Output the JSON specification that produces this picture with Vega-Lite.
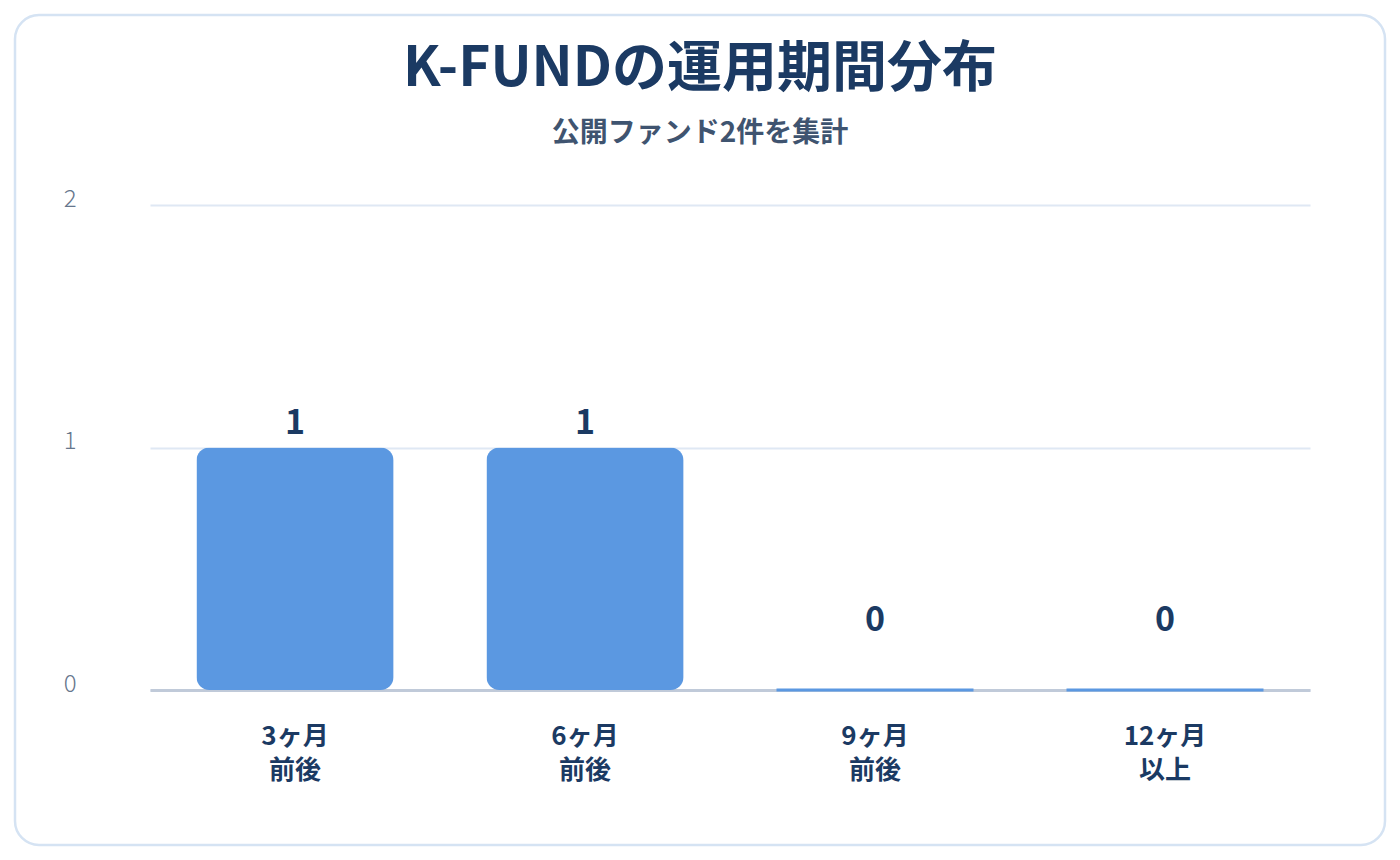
{
  "$schema": "https://vega.github.io/schema/vega-lite/v6.json",
  "width": 1370,
  "height": 830,
  "autosize": {"type": "none"},
  "padding": {"left": 15, "top": 15, "right": 15, "bottom": 15},
  "background": "white",
  "config": {
    "font": "Noto Sans CJK JP",
    "view": {"fill": "white", "stroke": "#d5e3f3", "strokeWidth": 2.5, "cornerRadius": 24}
  },
  "title": {
    "text": "K-FUNDの運用期間分布",
    "subtitle": "公開ファンド2件を集計",
    "fontSize": 55,
    "fontWeight": "bold",
    "color": "#1b3a63",
    "subtitleFontSize": 28,
    "subtitleFontWeight": "bold",
    "subtitleColor": "#3f5470",
    "subtitlePadding": 22,
    "anchor": "middle",
    "dy": 138
  },
  "data": {
    "values": [
      {"period": "3ヶ月 前後", "count": 1},
      {"period": "6ヶ月 前後", "count": 1},
      {"period": "9ヶ月 前後", "count": 0},
      {"period": "12ヶ月 以上", "count": 0}
    ]
  },
  "encoding": {
    "x": {
      "field": "period",
      "type": "nominal",
      "sort": null,
      "scale": {"range": [135, 1295], "paddingInner": 0.32, "paddingOuter": 0.16},
      "axis": {
        "title": null,
        "orient": "bottom",
        "offset": -155,
        "domainColor": "#c0cad9",
        "domainWidth": 3,
        "ticks": false,
        "tickSize": 0,
        "grid": false,
        "labelAngle": 0,
        "labelPadding": 33,
        "labelFontSize": 26,
        "labelFontWeight": "bold",
        "labelColor": "#1b3a63",
        "labelLineHeight": 34,
        "labelExpr": "split(datum.label, ' ')"
      }
    },
    "y": {
      "field": "count",
      "type": "quantitative",
      "scale": {"domain": [0, 2], "range": [675, 190], "nice": false},
      "axis": {
        "title": null,
        "values": [0, 1, 2],
        "labelExpr": "format(datum.value, 'd')",
        "labelOverlap": false,
        "grid": true,
        "gridColor": "#dfe8f4",
        "gridWidth": 2,
        "domain": false,
        "ticks": false,
        "tickSize": 0,
        "offset": -61,
        "labelPadding": 0,
        "labelFontSize": 24,
        "labelFontWeight": 300,
        "labelColor": "#66768c",
        "labelBaseline": "middle",
        "labelOffset": -6
      }
    }
  },
  "layer": [
    {
      "mark": {"type": "bar", "color": "#5b98e1", "cornerRadius": 13}
    },
    {
      "transform": [{"filter": "datum.count == 0"}],
      "mark": {"type": "tick", "color": "#5b98e1", "thickness": 3, "size": 197, "opacity": 1}
    },
    {
      "mark": {
        "type": "text",
        "fontSize": 34,
        "fontWeight": "bold",
        "color": "#1b3a63",
        "baseline": "middle",
        "dy": {"expr": "datum.count == 0 ? -69 : -24"}
      },
      "encoding": {
        "text": {"field": "count", "type": "quantitative"}
      }
    }
  ]
}
